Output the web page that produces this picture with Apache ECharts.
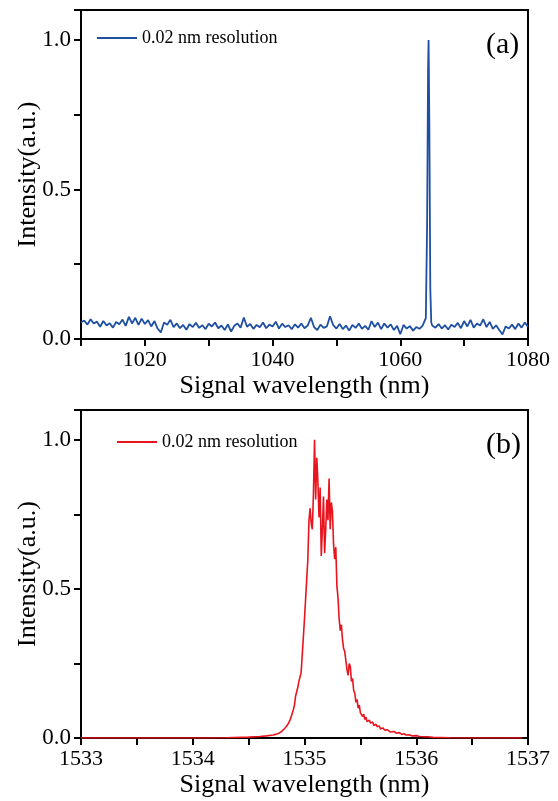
<!DOCTYPE html>
<html>
<head>
<meta charset="utf-8">
<script src="https://cdn.jsdelivr.net/npm/echarts@6/dist/echarts.min.js"></script>
<style>
html,body{margin:0;padding:0;background:#fff;}
#chart{width:558px;height:801px;}
</style>
</head>
<body>
<div id="chart"></div>
<script>
// ---------- DATA ----------
const legendLabel = '0.02 nm resolution';
const panelLabels = ['(a)', '(b)'];
const xTitle = 'Signal wavelength (nm)';
const yTitle = 'Intensity(a.u.)';
const yTickLabels = ['0.0', '0.5', '1.0'];
const xTickLabelsA = ['1020', '1040', '1060', '1080'];
const xTickLabelsB = ['1533', '1534', '1535', '1536', '1537'];

// Panel (a): wavelength (nm) and intensity (a.u.)
const wavelengthA = [
 1010,1010.5,1011,1011.5,1012,1012.5,1013,1013.5,1014,1014.5,1015,1015.5,1016,1016.5,1017,1017.5,1018,1018.5,1019,1019.5,
 1020,1020.5,1021,1021.5,1022,1022.5,1023,1023.5,1024,1024.5,1025,1025.5,1026,1026.5,1027,1027.5,1028,1028.5,1029,1029.5,
 1030,1030.5,1031,1031.5,1032,1032.5,1033,1033.5,1034,1034.5,1035,1035.5,1036,1036.5,1037,1037.5,1038,1038.5,1039,1039.5,
 1040,1040.5,1041,1041.5,1042,1042.5,1043,1043.5,1044,1044.5,1045,1045.5,1046,1046.5,1047,1047.5,1048,1048.5,1049,1049.5,
 1050,1050.5,1051,1051.5,1052,1052.5,1053,1053.5,1054,1054.5,1055,1055.5,1056,1056.5,1057,1057.5,1058,1058.5,1059,1059.5,
 1060,1060.5,1061,1061.5,1062,1062.5,1063,1063.5,1063.8,1064.0,1064.2,1064.35,1064.43,1064.55,1064.7,1064.85,
 1065,1065.5,1066,1066.5,1067,1067.5,1068,1068.5,1069,1069.5,
 1070,1070.5,1071,1071.5,1072,1072.5,1073,1073.5,1074,1074.5,1075,1075.5,1076,1076.5,1077,1077.5,1078,1078.5,1079,1079.5,1080
];
const intensityA = [
 0.055,0.062,0.048,0.066,0.052,0.058,0.041,0.060,0.045,0.053,0.038,0.057,0.049,0.065,0.044,0.074,0.052,0.071,0.047,0.068,
 0.050,0.063,0.042,0.060,0.035,0.022,0.055,0.048,0.064,0.040,0.052,0.036,0.047,0.031,0.050,0.040,0.054,0.037,0.046,0.033,
 0.051,0.042,0.055,0.036,0.045,0.030,0.049,0.025,0.044,0.052,0.038,0.072,0.041,0.050,0.034,0.047,0.039,0.055,0.036,0.048,
 0.042,0.058,0.035,0.051,0.040,0.046,0.033,0.049,0.038,0.052,0.036,0.045,0.071,0.040,0.030,0.048,0.037,0.042,0.076,0.046,
 0.035,0.050,0.033,0.045,0.028,0.047,0.037,0.052,0.034,0.044,0.031,0.060,0.040,0.055,0.033,0.052,0.038,0.049,0.030,0.044,
 0.016,0.047,0.035,0.043,0.028,0.040,0.034,0.045,0.050,0.070,0.380,0.900,1.000,0.720,0.170,0.055,
 0.045,0.038,0.050,0.035,0.046,0.032,0.048,0.040,0.054,0.036,
 0.060,0.042,0.064,0.038,0.052,0.045,0.066,0.040,0.057,0.034,0.046,0.030,0.015,0.042,0.035,0.048,0.033,0.052,0.038,0.055,0.040
];

// Panel (b): wavelength (nm) and intensity (a.u.)
const wavelengthB = [
 1533,1533.5,1534,1534.3,1534.5,1534.6,1534.66,1534.72,1534.75,1534.77,1534.79,1534.81,1534.83,1534.85,1534.87,1534.88,1534.9,1534.91,1534.92,1534.94,1534.95,1534.97,
 1535.0,1535.015,1535.03,1535.04,1535.05,1535.06,1535.07,1535.08,1535.09,1535.1,1535.11,1535.12,1535.13,1535.14,1535.15,
 1535.16,1535.17,1535.18,1535.19,1535.2,1535.21,1535.22,1535.23,1535.24,1535.25,1535.26,1535.27,1535.28,1535.29,1535.3,
 1535.31,1535.32,1535.33,1535.34,1535.35,1535.36,1535.37,1535.38,1535.39,1535.4,1535.41,1535.42,1535.43,1535.44,1535.45,1535.46,1535.47,1535.48,1535.49,
 1535.5,1535.51,1535.52,1535.53,1535.54,1535.55,1535.56,1535.58,1535.59,1535.61,1535.62,1535.64,1535.65,1535.67,1535.68,1535.7,1535.72,1535.74,1535.77,1535.8,1535.82,1535.85,1535.87,1535.89,1535.91,1535.94,1535.96,1536.0,1536.03,1536.1,1536.15,
 1536.3,1536.6,1536.95
];
const intensityB = [
 0,0,0,0.001,0.003,0.005,0.007,0.010,0.013,0.016,0.020,0.027,0.035,0.045,0.060,0.070,0.095,0.110,0.140,0.170,0.190,0.220,
 0.400,0.500,0.600,0.730,0.770,0.720,0.700,0.820,1.000,0.800,0.940,0.860,0.740,0.840,0.610,
 0.700,0.810,0.620,0.700,0.800,0.730,0.870,0.700,0.790,0.760,0.650,0.600,0.640,0.510,0.470,
 0.400,0.360,0.380,0.330,0.300,0.290,0.260,0.230,0.210,0.250,0.240,0.190,0.200,0.160,0.150,0.120,0.130,0.100,0.110,
 0.085,0.090,0.072,0.080,0.062,0.070,0.055,0.060,0.050,0.054,0.042,0.046,0.038,0.040,0.030,0.034,0.026,0.028,0.020,0.022,0.016,0.018,0.012,0.014,0.010,0.011,0.007,0.008,0.005,0.004,0.002,
 0.001,0,0
];

// ---------- CHART ----------
const FONT = '"Liberation Serif", "Times New Roman", serif';
const pairs = (xs, ys) => xs.map((x, i) => [x, ys[i]]);
const near = (v, t) => Math.abs(v - t) < 1e-6;

function labelFrom(list) {
  return function (v) {
    for (const s of list) { if (near(parseFloat(s), v)) return s; }
    return '';
  };
}

function xAxisCfg(gi, min, max, interval, labels) {
  return {
    type: 'value', gridIndex: gi, min: min, max: max, interval: interval,
    name: xTitle, nameLocation: 'middle', nameGap: 34, nameMoveOverlap: false,
    nameTextStyle: { fontFamily: FONT, fontSize: 26, color: '#000' },
    axisLine: { show: true, onZero: false, lineStyle: { color: '#000', width: 2 } },
    axisTick: { show: true, inside: false, length: 7, lineStyle: { color: '#000', width: 2 } },
    axisLabel: { fontFamily: FONT, fontSize: 22, color: '#000', margin: 10, formatter: labelFrom(labels), showMinLabel: true, showMaxLabel: true },
    splitLine: { show: false }
  };
}
function yAxisCfg(gi) {
  return {
    type: 'value', gridIndex: gi, min: 0, max: 1.1, interval: 0.25,
    name: yTitle, nameLocation: 'middle', nameGap: 40, nameMoveOverlap: false,
    nameTextStyle: { fontFamily: FONT, fontSize: 26, color: '#000' },
    axisLine: { show: true, onZero: false, lineStyle: { color: '#000', width: 2 } },
    axisTick: { show: true, inside: false, length: 7, lineStyle: { color: '#000', width: 2 } },
    axisLabel: { fontFamily: FONT, fontSize: 23, color: '#000', margin: 10, formatter: labelFrom(yTickLabels) },
    splitLine: { show: false }
  };
}

const chart = echarts.init(document.getElementById('chart'), null, { renderer: 'canvas' });
chart.setOption({
  animation: false,
  backgroundColor: '#fff',
  grid: [
    { left: 81, top: 10, width: 447, height: 329, show: true, borderColor: '#000', borderWidth: 2, backgroundColor: 'transparent', containLabel: false, outerBoundsMode: 'none' },
    { left: 81, top: 410, width: 447, height: 328, show: true, borderColor: '#000', borderWidth: 2, backgroundColor: 'transparent', containLabel: false, outerBoundsMode: 'none' }
  ],
  xAxis: [
    xAxisCfg(0, 1010, 1080, 10, xTickLabelsA),
    xAxisCfg(1, 1533, 1537, 0.5, xTickLabelsB)
  ],
  yAxis: [yAxisCfg(0), yAxisCfg(1)],
  legend: [
    { data: ['a'], left: 97, top: 29, padding: 0, itemWidth: 40, itemHeight: 2, icon: 'rect',
      formatter: () => legendLabel, textStyle: { fontFamily: FONT, fontSize: 18, color: '#000' }, selectedMode: false },
    { data: ['b'], left: 117, top: 433, padding: 0, itemWidth: 40, itemHeight: 2, icon: 'rect',
      formatter: () => legendLabel, textStyle: { fontFamily: FONT, fontSize: 18, color: '#000' }, selectedMode: false }
  ],
  graphic: [
    { type: 'text', left: 486, top: 30, style: { text: panelLabels[0], font: '30px ' + FONT, fill: '#000' } },
    { type: 'text', left: 486, top: 430, style: { text: panelLabels[1], font: '30px ' + FONT, fill: '#000' } }
  ],
  series: [
    { name: 'a', type: 'line', xAxisIndex: 0, yAxisIndex: 0, data: pairs(wavelengthA, intensityA),
      symbol: 'none', color: '#1f4fa3', lineStyle: { color: '#1f4fa3', width: 1.8 }, z: 3 },
    { name: 'b', type: 'line', xAxisIndex: 1, yAxisIndex: 1, data: pairs(wavelengthB, intensityB),
      symbol: 'none', color: '#e8141e', lineStyle: { color: '#e8141e', width: 1.6 }, z: 3 }
  ]
});
</script>
</body>
</html>
